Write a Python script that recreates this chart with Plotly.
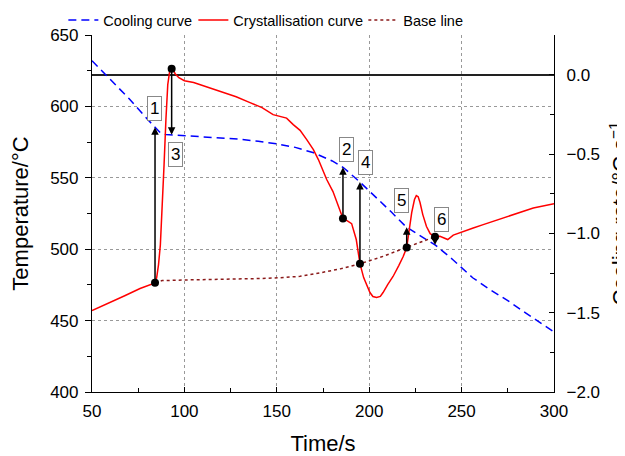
import numpy as np
import plotly.graph_objects as go

# ---- data ----
blue_t = [50, 60, 70, 80, 87, 90, 100, 110, 120, 130, 140, 150, 160, 170, 180, 186,
          195, 205, 212, 220, 228, 236, 245, 256, 265, 275, 285, 300]
blue_T = [632, 618.5, 605.5, 591, 581.5, 580.3, 579.6, 578.8, 578, 577, 575.6, 573.8,
          571.3, 567.5, 561.8, 557.2, 547, 535, 526, 515.6, 509, 502.7, 493, 480, 472,
          464, 455, 442]

red_t = [50, 60, 68, 76, 84.1, 85, 86, 87, 88, 89, 90, 91, 92, 93.1, 94, 95, 97, 100,
         105, 110, 115, 121, 128, 135.5, 142, 148, 151.7, 155.3, 158.9, 162.6, 166.2,
         169.8, 172.5, 175.2, 177, 180.4, 183, 185.8, 188, 190.5, 193, 195, 197, 200.4,
         202, 204, 206, 207.5, 210, 212.9, 216, 218.4, 220.3, 221.5, 223, 224.5, 225.5,
         226.5, 227.5, 229, 231, 233, 235.6, 238.3, 240, 242.5, 245.5, 250.9, 256.3,
         261.7, 267.1, 274.4, 281.6, 288.8, 300]
red_rate = [-1.487, -1.436, -1.392, -1.348, -1.312, -1.279, -1.197, -1.071, -0.850,
            -0.567, -0.283, -0.063, 0.019, 0.038, 0.031, 0.006, -0.019, -0.038, -0.050,
            -0.069, -0.088, -0.113, -0.139, -0.176, -0.208, -0.252, -0.263, -0.274,
            -0.315, -0.351, -0.409, -0.472, -0.535, -0.617, -0.661, -0.737, -0.819,
            -0.907, -0.920, -0.939, -1.039, -1.191, -1.279, -1.373, -1.398, -1.405,
            -1.398, -1.373, -1.323, -1.272, -1.203, -1.146, -1.090, -0.976, -0.869,
            -0.787, -0.762, -0.769, -0.806, -0.882, -0.957, -1.002, -1.022, -1.019,
            -1.027, -1.039, -1.011, -0.987, -0.966, -0.945, -0.924, -0.896, -0.871,
            -0.840, -0.813]

base_t = [84.1, 88, 100, 120, 140, 151.7, 162.6, 173.5, 184.3, 195, 207.5, 220.3,
          227.5, 235.6]
base_rate = [-1.312, -1.298, -1.294, -1.291, -1.285, -1.280, -1.271, -1.249, -1.224,
             -1.192, -1.145, -1.088, -1.056, -1.022]

event_labels = ["1", "2", "3", "4", "5", "6"]
event_t = [84.1, 185.8, 93.1, 195, 220.3, 235.6]
label_t = [84.0, 187.8, 95.0, 197.9, 217.7, 239.2]
label_T = [598.7, 570.0, 566.4, 560.5, 534.0, 521.0]

y1_range = [400, 650]
y2_range = [-2.0, 0.25]

FONT = "Liberation Sans, Arial, Helvetica, sans-serif"

dot_rate = np.interp(event_t, red_t, red_rate)
blue_at = np.interp(event_t, blue_t, blue_T)
dot_T = y1_range[0] + (dot_rate - y2_range[0]) / (y2_range[1] - y2_range[0]) * (y1_range[1] - y1_range[0])

fig = go.Figure()
fig.add_trace(go.Scatter(x=blue_t, y=blue_T, mode="lines", name="Cooling curve",
                         legend="legend",
                         line=dict(color="#0000FF", width=1.5, dash="8px,5px")))
fig.add_trace(go.Scatter(x=red_t, y=red_rate, mode="lines", name="Crystallisation curve",
                         legend="legend2",
                         yaxis="y2", line=dict(color="#FF0000", width=1.5)))
fig.add_trace(go.Scatter(x=base_t, y=base_rate, mode="lines", name="Base line",
                         legend="legend3",
                         yaxis="y2", line=dict(color="#8B1A1A", width=1.5, dash="dot")))
fig.add_trace(go.Scatter(x=event_t, y=dot_rate, mode="markers", yaxis="y2", showlegend=False,
                         marker=dict(color="black", size=8)))

ann = []
for t, yb, yd in zip(event_t, blue_at, dot_T):
    ann.append(dict(x=t, y=yb, xref="x", yref="y", ax=t, ay=yd, axref="x", ayref="y",
                    text="", showarrow=True, arrowhead=2, arrowsize=1, arrowwidth=1.5,
                    arrowcolor="black", standoff=0, startstandoff=0))
for lab, lx, ly in zip(event_labels, label_t, label_T):
    ann.append(dict(x=lx, y=ly, xref="x", yref="y", text=lab, showarrow=False,
                    font=dict(size=17, color="black", family=FONT),
                    bgcolor="white", bordercolor="#888888", borderwidth=1, borderpad=2))

leg_common = dict(orientation="h", xanchor="left", y=1.042, yanchor="middle",
                  font=dict(family=FONT, size=14.5), bgcolor="rgba(0,0,0,0)",
                  itemwidth=30, borderwidth=0)

grid = dict(showgrid=True, gridcolor="#999999", griddash="dot", gridwidth=1)
fig.update_layout(
    width=625, height=456,
    margin=dict(l=84, r=79, t=27, b=72, autoexpand=False),
    plot_bgcolor="white", paper_bgcolor="white",
    font=dict(family=FONT, size=17, color="black"),
    showlegend=True,
    legend=dict(x=-0.062, **leg_common),
    legend2=dict(x=0.2194, **leg_common),
    legend3=dict(x=0.5873, **leg_common),
    xaxis=dict(range=[50, 300], tickvals=[50, 100, 150, 200, 250, 300], automargin=False,
               ticks="inside", ticklen=5, tickcolor="black", showline=True,
               linecolor="black", linewidth=1.2, zeroline=False, ticklabelstandoff=3,
               minor=dict(dtick=25, ticks="inside", ticklen=4, tickcolor="black", showgrid=False),
               title=dict(text="Time/s", font=dict(size=22), standoff=16),
               **grid),
    yaxis=dict(range=y1_range, tickvals=[400, 450, 500, 550, 600, 650], automargin=False,
               ticks="outside", ticklen=6, tickcolor="black", showline=True,
               linecolor="black", linewidth=1.2, zeroline=False, ticklabelstandoff=3,
               minor=dict(dtick=25, ticks="outside", ticklen=4, tickcolor="black", showgrid=False),
               title=dict(text="Temperature/°C", font=dict(size=22), standoff=18),
               **grid),
    yaxis2=dict(range=y2_range, overlaying="y", side="right", automargin=False,
                tickvals=[-2.0, -1.5, -1.0, -0.5, 0.0], tickformat=".1f",
                ticks="inside", ticklen=5, tickcolor="black", showline=True,
                linecolor="black", linewidth=1.2, showgrid=False, ticklabelstandoff=8,
                zeroline=True, zerolinecolor="#222222", zerolinewidth=1.5,
                minor=dict(dtick=0.25, ticks="inside", ticklen=4, tickcolor="black"),
                title=dict(text="Cooling rate/°C s<sup>−1</sup>", font=dict(size=22), standoff=14)),
    annotations=ann,
)

fig.write_html("out.html")
